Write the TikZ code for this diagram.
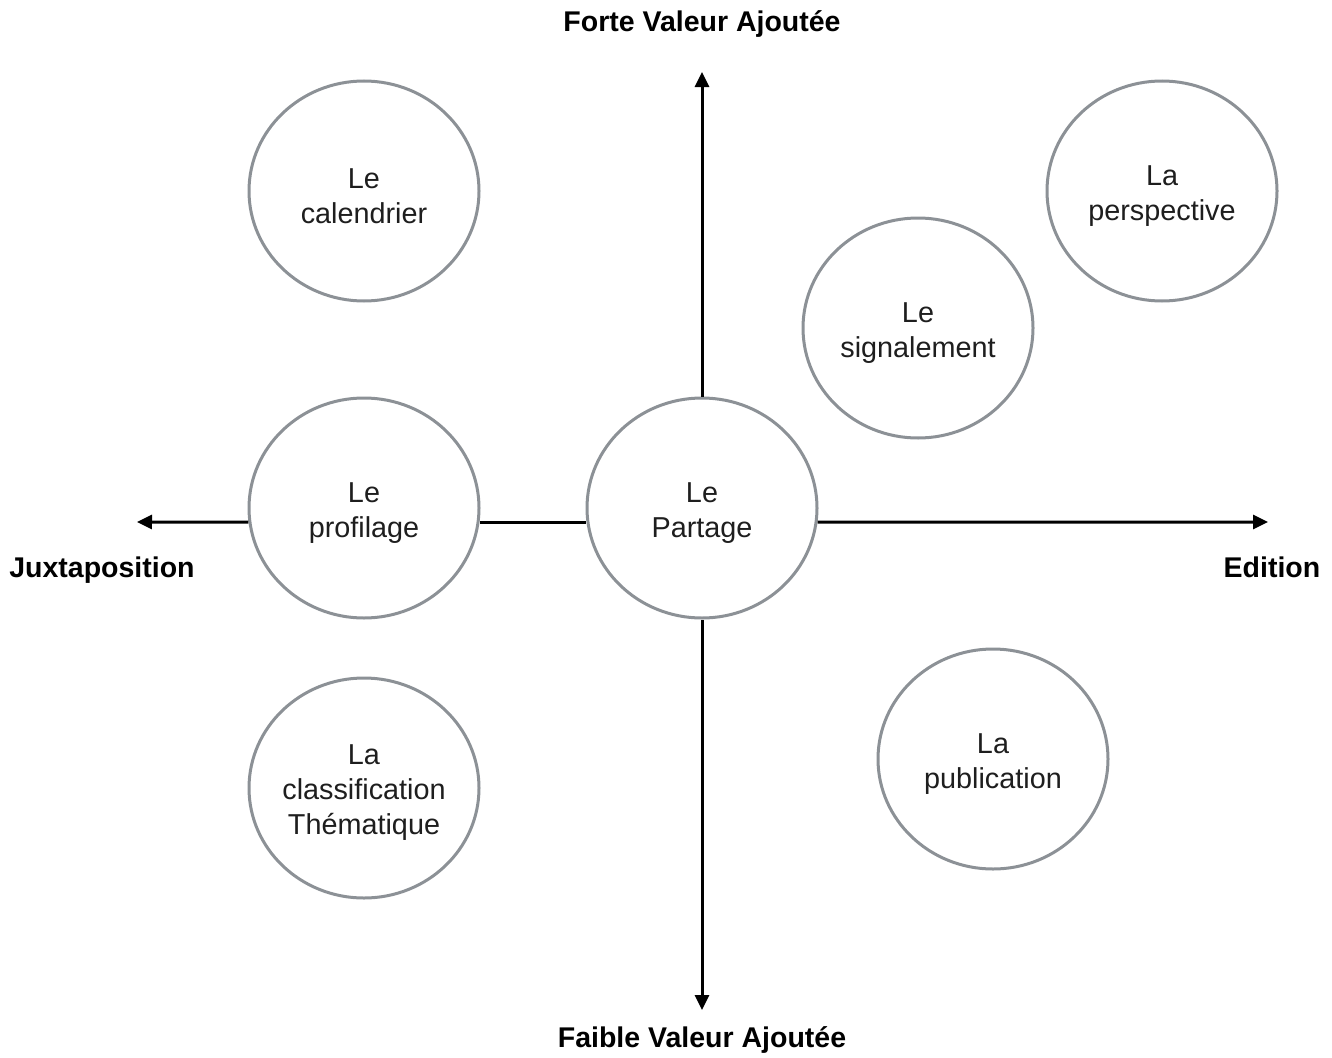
\documentclass[tikz,border=0pt]{standalone}
\usepackage{fontspec}
\setmainfont{Liberation Sans}
\usetikzlibrary{shapes.geometric,arrows.meta}
\begin{document}
\begin{tikzpicture}[x=1pt,y=-1pt,
  bubble/.style={ellipse,draw={rgb,255:red,140;green,145;blue,150},line width=3pt,
    minimum width=230pt,minimum height=220pt,inner sep=0pt},
  btext/.style={align=center,inner sep=0pt,yshift=-5pt,
    font=\fontsize{28.8}{35}\selectfont,text={rgb,255:red,30;green,30;blue,30}},
  axis/.style={line width=3pt,black},
  tip/.style={-{Triangle[length=15pt,width=14pt]}},
  axlabel/.style={font=\fontsize{28.5}{32}\selectfont\bfseries,inner sep=0pt}]
\useasboundingbox (0,0) rectangle (1332,1057);
\node[bubble,label={[btext]center:Le\\calendrier}] (cal) at (364,191) {};
\node[bubble,label={[btext]center:La\\perspective}] (per) at (1162,191) {};
\node[bubble,label={[btext]center:Le\\signalement}] (sig) at (918,328) {};
\node[bubble,label={[btext]center:Le\\profilage}] (pro) at (364,508) {};
\node[bubble,label={[btext]center:Le\\Partage}] (par) at (702,508) {};
\node[bubble,label={[btext]center:La\\classification\\Thématique}] (cla) at (364,788) {};
\node[bubble,label={[btext]center:La\\publication}] (pub) at (993,759) {};
\node[axlabel] (top) at (702,24) {Forte Valeur Ajoutée};
\node[axlabel] (bot) at (702,1040) {Faible Valeur Ajoutée};
\node[axlabel] (lft) at (102,570) {Juxtaposition};
\node[axlabel] (rgt) at (1272,567) {Edition};
\coordinate (tl) at (137,522);
\coordinate (tr) at (1268,522);
\coordinate (tt) at (702,72);
\coordinate (tb) at (702,1010);
\draw[axis,tip] (pro.187) -- (tl);
\draw[axis] (pro.353) -- (par.187);
\draw[axis,tip] (par.353) -- (tr);
\draw[axis,tip] (par.north) -- (tt);
\draw[axis,tip] (par.south) -- (tb);
\end{tikzpicture}
\end{document}
